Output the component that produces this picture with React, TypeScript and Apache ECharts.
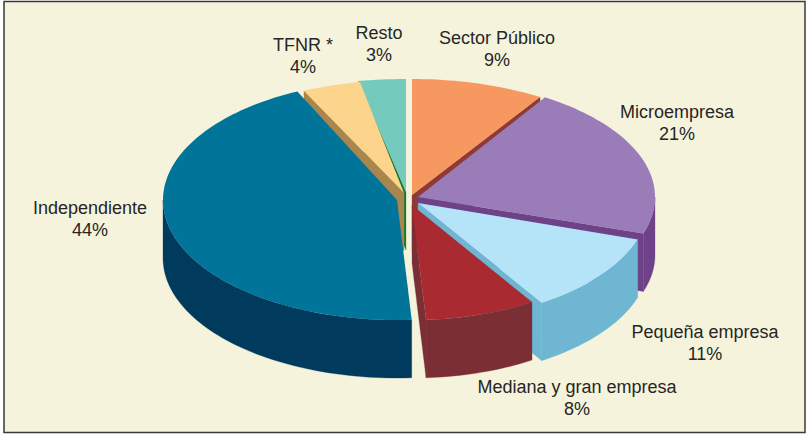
import React, { useEffect, useRef } from "react";
import * as echarts from "echarts";

const categories = ["Resto", "TFNR *", "Independiente", "Sector Público", "Microempresa", "Pequeña empresa", "Mediana y gran empresa"];
const values = [3, 4, 44, 9, 21, 11, 8];
// Start of each slice, clockwise from twelve o'clock, follows the reference's slice order.
const clockOrder = ["Sector Público", "Microempresa", "Pequeña empresa", "Mediana y gran empresa", "Independiente", "TFNR *", "Resto"];

const topColors = ["#74CABD", "#FDD48B", "#01749A", "#F79860", "#9A7CB8", "#B5E4F9", "#A92A30"];
const wallColors = ["#167A35", "#A8864E", "#003A5C", "#8F3A35", "#6E4289", "#6EB6D2", "#7C2E35"];
const centers = [[406, 192], [404, 193], [397, 200], [412, 195], [418, 197], [418, 203], [412, 205]];
const radiiX = [254, 235, 234, 239, 237, 231, 224];
const radiiY = [113, 113, 120, 116, 118, 118, 115];
const labelPos = [[379, 44], [303, 56], [90, 219], [497, 49], [677, 123], [705, 343], [577, 398]];

const DEPTH = 58;
const total = values.reduce((a, b) => a + b, 0);

function startAngle(name: string) {
  let sum = 0;
  for (const n of clockOrder) {
    if (n === name) break;
    sum += values[categories.indexOf(n)];
  }
  return (sum / total) * 360;
}

const rad = (d: number) => (d * Math.PI) / 180;

function renderSlice(params: any, api: any) {
  const i = params.dataIndex;
  const value = api.value(0);
  const a0 = startAngle(categories[i]);
  const a1 = a0 + (value / total) * 360;
  const [cx, cy] = centers[i];
  const RX = radiiX[i];
  const RY = radiiY[i];
  const pt = (a: number, dy = 0) => [cx + RX * Math.sin(rad(a)), cy - RY * Math.cos(rad(a)) + dy];
  const arc = (from: number, to: number, dy = 0) => {
    const out: number[][] = [];
    const n = Math.max(2, Math.ceil((to - from) / 1.5));
    for (let k = 0; k <= n; k++) out.push(pt(from + ((to - from) * k) / n, dy));
    return out;
  };
  const children: any[] = [];
  const wallStyle = { fill: wallColors[i], stroke: wallColors[i], lineWidth: 0.3 };
  const cut = (a: number) => ({
    type: "polygon",
    shape: { points: [pt(a), [cx, cy], [cx, cy + DEPTH], pt(a, DEPTH)] },
    style: wallStyle,
  });
  if (a0 > 180 && a0 < 360) children.push(cut(a0));
  if (a1 > 0 && a1 < 180) children.push(cut(a1));
  const f0 = Math.max(a0, 90);
  const f1 = Math.min(a1, 270);
  if (f1 > f0) {
    children.push({
      type: "polygon",
      shape: { points: [...arc(f0, f1), ...arc(f0, f1, DEPTH).reverse()] },
      style: wallStyle,
    });
  }
  children.push({
    type: "polygon",
    shape: { points: [[cx, cy], ...arc(a0, a1)] },
    style: { fill: topColors[i] },
  });
  return { type: "group", children };
}

function renderLabel(params: any, api: any) {
  const i = params.dataIndex;
  return {
    type: "text",
    style: {
      text: `${categories[i]}\n${api.value(0)}%`,
      x: labelPos[i][0],
      y: labelPos[i][1],
      fill: "#262626",
      fontFamily: "Liberation Sans",
      fontSize: 18,
      lineHeight: 21.5,
      align: "center",
      verticalAlign: "middle",
    },
  };
}

export default function App() {
  const ref = useRef<HTMLDivElement>(null);
  useEffect(() => {
    const chart = echarts.init(ref.current!, undefined, { renderer: "svg" });
    chart.setOption({
      animation: false,
      backgroundColor: "#FFFFFF",
      graphic: [
        {
          type: "rect",
          z: -10,
          shape: { x: 4, y: 1.5, width: 801, height: 431 },
          style: { fill: "#F5F3DC", stroke: "#3A3A3A", lineWidth: 1.5 },
        },
      ],
      series: [
        {
          type: "custom",
          coordinateSystem: "none",
          renderItem: renderSlice,
          data: values.map((v) => [v]),
          silent: true,
          z: 2,
        },
        {
          type: "custom",
          coordinateSystem: "none",
          renderItem: renderLabel,
          data: values.map((v) => [v]),
          silent: true,
          z: 3,
        },
      ],
    });
    return () => chart.dispose();
  }, []);
  return <div ref={ref} style={{ position: "fixed", left: 0, top: 0, width: 806, height: 434 }} />;
}
